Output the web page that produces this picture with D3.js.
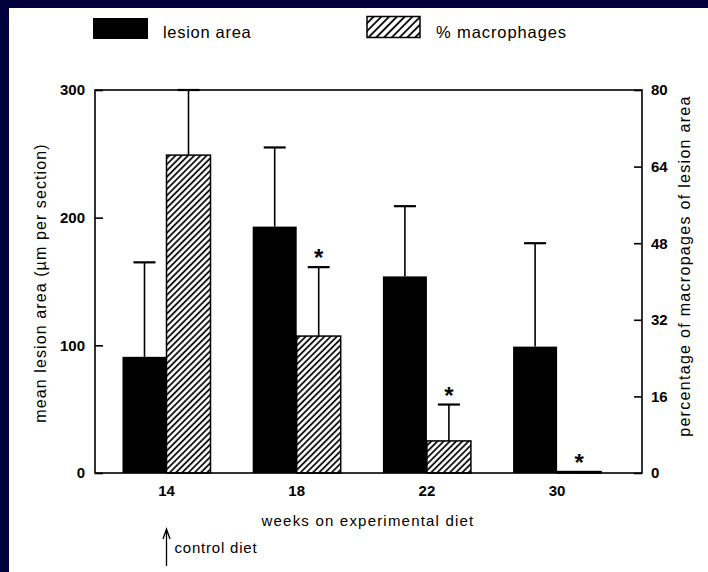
<!DOCTYPE html>
<html>
<head>
<meta charset="utf-8">
<script src="https://cdn.jsdelivr.net/npm/d3@7"></script>
<style>
  html, body { margin: 0; padding: 0; background: #03003e; }
  svg { display: block; }
  text { font-family: "Liberation Sans", Arial, sans-serif; fill: #000; }
</style>
</head>
<body>
<svg id="chart" width="708" height="572"></svg>
<script>
// ---- data ----
const weeks = ["14", "18", "22", "30"];
const lesionArea = [91, 193, 154, 99];          // mean lesion area (left axis)
const lesionErr = [165, 255, 209, 180];         // top of error bar
const macrophages = [66.4, 28.6, 6.7, 0.3];     // % macrophages (right axis)
const macroErr = [80, 43, 14.3, null];          // top of error bar
const macroSig = [false, true, true, true];     // asterisk
const leftTicks = [0, 100, 200, 300];
const rightTicks = [0, 16, 32, 48, 64, 80];
const seriesKeys = ["lesion", "macro"];
const legendLabels = ["lesion area", "% macrophages"];

const W = 708, H = 572;
const svg = d3.select("#chart");

// background panel
svg.append("rect").attr("x", 0).attr("y", 0).attr("width", W).attr("height", H).attr("fill", "#03003e");
svg.append("rect").attr("x", 9).attr("y", 8).attr("width", W - 9).attr("height", H - 8).attr("fill", "#fff");

// patterns
const defs = svg.append("defs");
defs.append("pattern").attr("id", "hatch").attr("patternUnits", "userSpaceOnUse")
  .attr("width", 4.4).attr("height", 4.4).attr("patternTransform", "rotate(45)")
  .call(p => {
    p.append("rect").attr("width", 4.4).attr("height", 4.4).attr("fill", "#fff");
    p.append("line").attr("x1", 1).attr("y1", 0).attr("x2", 1).attr("y2", 4.4)
      .attr("stroke", "#000").attr("stroke-width", 1.7);
  });
defs.append("pattern").attr("id", "hatchL").attr("patternUnits", "userSpaceOnUse")
  .attr("width", 5.5).attr("height", 5.5).attr("patternTransform", "rotate(45)")
  .call(p => {
    p.append("rect").attr("width", 5.5).attr("height", 5.5).attr("fill", "#fff");
    p.append("line").attr("x1", 1).attr("y1", 0).attr("x2", 1).attr("y2", 5.5)
      .attr("stroke", "#000").attr("stroke-width", 1.8);
  });

const plot = { left: 95, right: 642, top: 90, bottom: 473 };

const yL = d3.scaleLinear().domain([0, 300]).range([plot.bottom, plot.top]);
const yR = d3.scaleLinear().domain([0, 80]).range([plot.bottom, plot.top]);
const x = d3.scaleBand().domain(weeks).range([101.4, 622.2]).paddingInner(0.324).paddingOuter(0.162);
const xs = d3.scaleBand().domain(seriesKeys).range([0, x.bandwidth()]);

const g = svg.append("g");

const rows = weeks.map((w, i) => ({
  w, la: lesionArea[i], le: lesionErr[i], mv: macrophages[i], me: macroErr[i], sig: macroSig[i]
}));

// error bars (drawn before bars)
const capW = 22;
function errBar(cx, yTop, yBase) {
  g.append("line").attr("x1", cx).attr("x2", cx).attr("y1", yBase).attr("y2", yTop)
    .attr("stroke", "#000").attr("stroke-width", 1.6);
  g.append("line").attr("x1", cx - capW / 2).attr("x2", cx + capW / 2).attr("y1", yTop).attr("y2", yTop)
    .attr("stroke", "#000").attr("stroke-width", 2.2);
}
rows.forEach(d => {
  const cL = x(d.w) + xs("lesion") + xs.bandwidth() / 2;
  errBar(cL, yL(d.le), yL(d.la));
  if (d.me != null) {
    const cM = x(d.w) + xs("macro") + xs.bandwidth() / 2;
    errBar(cM, yR(d.me), yR(d.mv));
  }
});

g.selectAll("rect.lesion").data(rows).join("rect").attr("class", "lesion")
  .attr("x", d => x(d.w) + xs("lesion"))
  .attr("width", xs.bandwidth())
  .attr("y", d => yL(d.la))
  .attr("height", d => yL(0) - yL(d.la))
  .attr("fill", "#000");

g.selectAll("rect.macro").data(rows).join("rect").attr("class", "macro")
  .attr("x", d => x(d.w) + xs("macro"))
  .attr("width", xs.bandwidth())
  .attr("y", d => yR(d.mv))
  .attr("height", d => yR(0) - yR(d.mv))
  .attr("fill", "url(#hatch)")
  .attr("stroke", "#000").attr("stroke-width", 1.5);

// asterisks
g.selectAll("text.sig").data(rows.filter(d => d.sig)).join("text").attr("class", "sig")
  .attr("x", d => x(d.w) + xs("macro") + xs.bandwidth() / 2)
  .attr("y", d => yR(d.me != null ? d.me : d.mv) - 1)
  .attr("text-anchor", "middle")
  .attr("font-size", 24).attr("font-weight", "bold")
  .text("*");

// frame
svg.append("rect").attr("x", plot.left).attr("y", plot.top)
  .attr("width", plot.right - plot.left).attr("height", plot.bottom - plot.top)
  .attr("fill", "none").attr("stroke", "#000").attr("stroke-width", 1.6);

// axes
const axL = svg.append("g").attr("transform", `translate(${plot.left},0)`)
  .call(d3.axisLeft(yL).tickValues(leftTicks).tickSizeInner(-8).tickSizeOuter(0).tickPadding(10));
const axR = svg.append("g").attr("transform", `translate(${plot.right},0)`)
  .call(d3.axisRight(yR).tickValues(rightTicks).tickSizeInner(-8).tickSizeOuter(0).tickPadding(9));
const axB = svg.append("g").attr("transform", `translate(0,${plot.bottom})`)
  .call(d3.axisBottom(x).tickSize(0).tickPadding(12));
[axL, axR, axB].forEach(a => {
  a.select(".domain").remove();
  a.selectAll(".tick line").attr("stroke", "#000").attr("stroke-width", 1.6);
  a.selectAll(".tick text").attr("font-size", 15).attr("font-weight", "bold")
    .attr("font-family", "'Liberation Sans', Arial, sans-serif").attr("fill", "#000");
});

// axis titles
svg.append("text").attr("transform", "translate(46,283) rotate(-90)")
  .attr("text-anchor", "middle").attr("font-size", 16).attr("letter-spacing", 1.1)
  .text("mean lesion area (µm per section)");
svg.append("text").attr("transform", "translate(690,266) rotate(-90)")
  .attr("text-anchor", "middle").attr("font-size", 16).attr("letter-spacing", 1.3)
  .text("percentage of macropages of lesion area");
svg.append("text").attr("x", 368).attr("y", 526)
  .attr("text-anchor", "middle").attr("font-size", 15).attr("letter-spacing", 1.2)
  .text("weeks on experimental diet");

// control diet arrow
const ax = x("14") + x.bandwidth() / 2;
svg.append("path").attr("d", `M${ax},566 L${ax},530 M${ax - 3.5},539 L${ax},529 L${ax + 3.5},539`)
  .attr("fill", "none").attr("stroke", "#000").attr("stroke-width", 1.3);
svg.append("text").attr("x", ax + 8).attr("y", 553).attr("font-size", 15).attr("letter-spacing", 0.8)
  .text("control diet");

// legend
const lg = svg.append("g");
lg.append("rect").attr("x", 93).attr("y", 18).attr("width", 55).attr("height", 21).attr("fill", "#000");
lg.append("text").attr("x", 163).attr("y", 38).attr("font-size", 16.5).attr("letter-spacing", 0.7).text(legendLabels[0]);
lg.append("rect").attr("x", 367).attr("y", 16.5).attr("width", 53).attr("height", 21)
  .attr("fill", "url(#hatchL)").attr("stroke", "#000").attr("stroke-width", 1.5);
lg.append("text").attr("x", 436).attr("y", 38).attr("font-size", 16.5).attr("letter-spacing", 0.9).text(legendLabels[1]);
</script>
</body>
</html>
